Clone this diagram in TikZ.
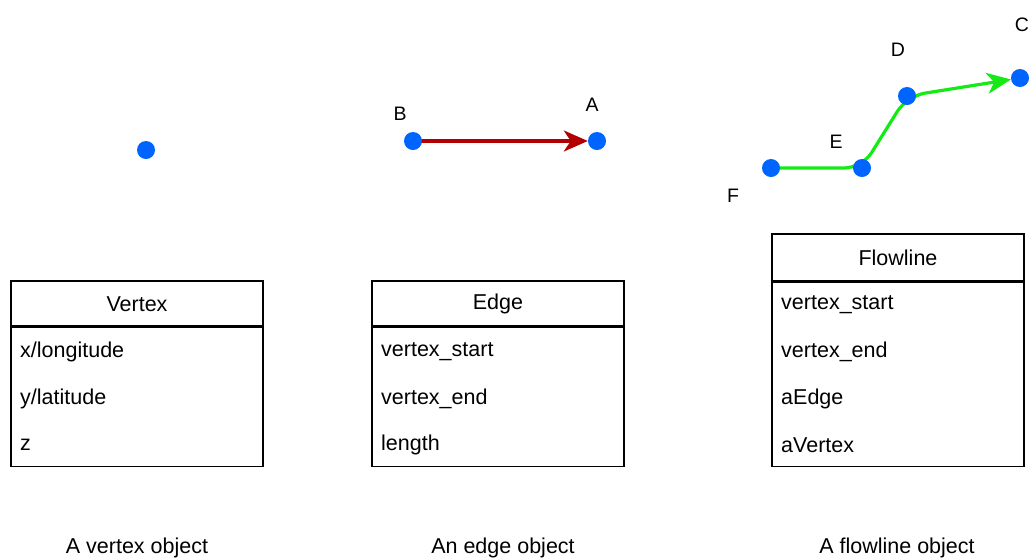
\documentclass[tikz,border=0pt]{standalone}
\usepackage{fontspec}
\setmainfont{Liberation Sans}
\usetikzlibrary{arrows.meta,backgrounds}
\definecolor{dotblue}{RGB}{0,100,255}
\definecolor{edgered}{RGB}{178,0,0}
\definecolor{flowgreen}{RGB}{20,235,20}
\tikzset{
  x=1pt, y=-1pt,
  vdot/.style={circle, fill=dotblue, inner sep=0pt, minimum size=18pt},
  ptlabel/.style={font=\fontsize{19.5}{22}\selectfont, inner sep=0pt},
  classhead/.style={draw, line width=1.3pt, minimum width=252pt, inner sep=0pt,
    font=\fontsize{21.5}{24}\selectfont},
  classbody/.style={draw, line width=1.3pt, minimum width=252pt, inner sep=0pt},
  attr/.style={anchor=west, inner sep=0pt, font=\fontsize{21.5}{24}\selectfont},
  caption/.style={inner sep=0pt, font=\fontsize{21.5}{24}\selectfont},
  tipped/.style={line width=3.2pt, -{Stealth[length=24pt,width=21pt,inset=7pt]}}
}
\begin{document}
\begin{tikzpicture}
\useasboundingbox (0,0) rectangle (1029,558);

% --- vertex ---
\node[vdot] (v) at (146,150) {};

% --- edge ---
\node[vdot] (B) at (413,141) {};
\node[vdot] (A) at (597,141) {};
\node[ptlabel] (lB) at (400,114) {B};
\node[ptlabel] (lA) at (592,105) {A};

% --- flowline ---
\node[vdot] (F) at (771,168) {};
\node[vdot] (E) at (862,168) {};
\node[vdot] (D) at (907,96) {};
\node[vdot] (C) at (1020,78) {};
\node[ptlabel] (lF) at (733,196) {F};
\node[ptlabel] (lE) at (836,142) {E};
\node[ptlabel] (lD) at (898,50) {D};
\node[ptlabel] (lC) at (1022,25) {C};

\begin{scope}[on background layer]
  \draw[tipped, edgered] (B.center) -- (A);
  \draw[tipped, flowgreen, rounded corners=18pt] (F.center) -- (E.center) -- (D.center) -- (C);
\end{scope}

% --- Vertex class ---
\node[classhead, minimum height=46pt] (vh) at (137,304) {Vertex};
\node[classbody, minimum height=141pt, anchor=north] (vb) at (137,325) {};
\node[attr] (v1) at (20,352) {x/longitude};
\node[attr] (v2) at (20,399) {y/latitude};
\node[attr] (v3) at (20,445) {z};

% --- Edge class ---
\node[classhead, minimum height=46pt] (eh) at (498,304) {Edge};
\node[classbody, minimum height=141pt, anchor=north] (eb) at (498,325) {};
\node[attr] (e1) at (381,352) {vertex\_start};
\node[attr] (e2) at (381,399) {vertex\_end};
\node[attr] (e3) at (381,445) {length};

% --- Flowline class ---
\node[classhead, minimum height=48pt] (fh) at (898,258) {Flowline};
\node[classbody, minimum height=186pt, anchor=north] (fb) at (898,280) {};
\node[attr] (f1) at (781,305) {vertex\_start};
\node[attr] (f2) at (781,352) {vertex\_end};
\node[attr] (f3) at (781,399) {aEdge};
\node[attr] (f4) at (781,445) {aVertex};

% --- captions ---
\node[caption] (cv) at (137,548) {A vertex object};
\node[caption] (ce) at (503,548) {An edge object};
\node[caption] (cf) at (897,548) {A flowline object};
\end{tikzpicture}
\end{document}
